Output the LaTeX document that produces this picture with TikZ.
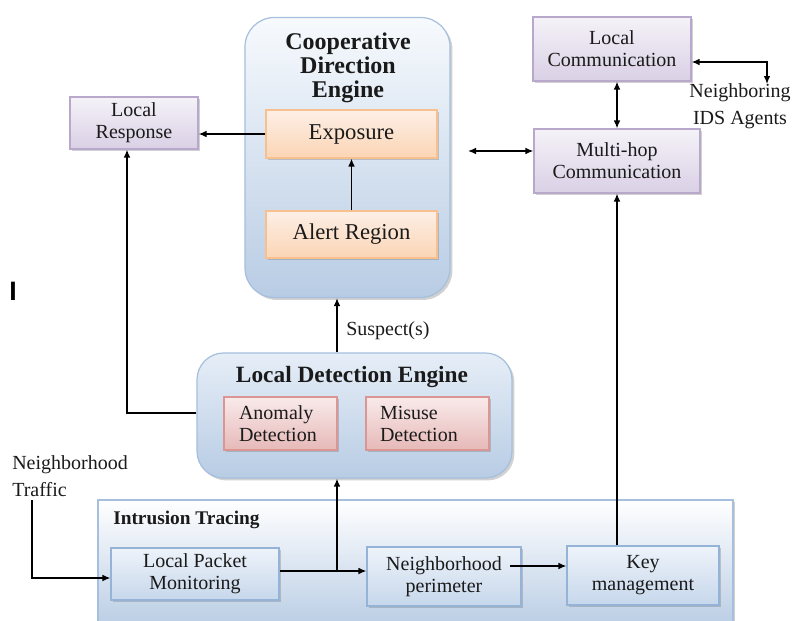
\documentclass[tikz,border=0pt]{standalone}
\usepackage{fontspec}
\setmainfont{Liberation Serif}
\newfontfamily\barfont{Liberation Sans}
\usetikzlibrary{arrows.meta,shadows}
\definecolor{txt}{HTML}{1A1A1A}
\definecolor{blueT}{HTML}{F7FAFD}
\definecolor{ldeT}{HTML}{E6EEF7}
\definecolor{blueD}{HTML}{B8CCE4}
\definecolor{blueB}{HTML}{A5BFDD}
\definecolor{lblueT}{HTML}{EEF3FA}
\definecolor{lblueD}{HTML}{C6D7EB}
\definecolor{lblueB}{HTML}{95B3D7}
\definecolor{orT}{HTML}{FDEFE6}
\definecolor{orD}{HTML}{FBD5B5}
\definecolor{orB}{HTML}{F9C08F}
\definecolor{puT}{HTML}{F5F2F8}
\definecolor{puD}{HTML}{D9D0E5}
\definecolor{puB}{HTML}{B8A9CC}
\definecolor{rdT}{HTML}{F9EAEA}
\definecolor{rdD}{HTML}{E6B9B8}
\definecolor{rdB}{HTML}{D99694}
\begin{document}
\begin{tikzpicture}[x=0.75pt,y=-0.75pt,
  sz/.style 2 args={minimum width=#1*0.75pt, minimum height=#2*0.75pt},
  base/.style={draw, inner sep=0pt, line width=0.9pt, text=txt,
     font=\fontsize{15}{16.5}\selectfont, align=center},
  shad/.style={drop shadow={shadow xshift=1.8pt,shadow yshift=-1.8pt,opacity=0.3,fill=black!60}},
  engine/.style={base, draw=blueB, top color=blueT, bottom color=blueD, shad},
  orangebox/.style={base, draw=orB, top color=orT, bottom color=orD, shad,
     font=\fontsize{17}{18}\selectfont},
  purplebox/.style={base, draw=puB, top color=puT, bottom color=puD, shad},
  redbox/.style={base, draw=rdB, top color=rdT, bottom color=rdD, shad, align=left},
  bluebox/.style={base, draw=lblueB, top color=lblueT, bottom color=lblueD, shad},
  title/.style={text=txt, inner sep=0pt, align=center, font=\bfseries},
  lab/.style={text=txt, inner sep=0pt, font=\fontsize{15}{20}\selectfont},
  arr/.style={-{Latex[length=6pt,width=5pt]}, line width=1pt},
  darr/.style={{Latex[length=6pt,width=5pt]}-{Latex[length=6pt,width=5pt]}, line width=1pt}
]
\useasboundingbox (0,0) rectangle (793,621);
\clip (0,0) rectangle (793,621);

% Cooperative Direction Engine
\node[engine, rounded corners=22pt, sz={205}{280}] (cde) at (347.5,157.5) {};
\node[title, font=\bfseries\fontsize{18}{18}\selectfont] (cdet) at (348,68) {Cooperative\\Direction\\Engine};
\node[orangebox, sz={171}{48}] (exp) at (351.5,134) {Exposure};
\node[orangebox, sz={171}{47}] (alert) at (351.5,234.5) {Alert Region};

% Local response
\node[purplebox, sz={128}{52}] (lr) at (134,123) {Local\\Response};

% Communication
\node[purplebox, sz={158}{64}] (lc) at (612,49) {Local\\Communication};
\node[purplebox, sz={166}{64}] (mh) at (617,161) {Multi-hop\\Communication};
\node[lab, align=center, font=\fontsize{15}{20}\selectfont] (nia) at (740,106) {Neighboring\\IDS Agents};

% Local Detection Engine
\node[engine, top color=ldeT, rounded corners=20pt, sz={315}{125}] (lde) at (354.5,415.5) {};
\node[title, font=\bfseries\fontsize{17.5}{18}\selectfont] (ldet) at (352,377) {Local Detection Engine};
\node[redbox, sz={113}{53}, text width=83*0.75pt] (ano) at (280.5,423.5) {Anomaly\\Detection};
\node[redbox, sz={123}{53}, text width=95*0.75pt] (mis) at (427.5,423.5) {Misuse\\Detection};
\node[lab, anchor=west] (sus) at (346,331) {Suspect(s)};

% Intrusion Tracing
\node[base, draw=blueB, top color=white, bottom color=blueD, sz={635}{130}, shad] (it) at (415.5,565) {};
\node[title, anchor=west, font=\bfseries\fontsize{14.5}{15}\selectfont] (itt) at (113,520) {Intrusion Tracing};
\node[bluebox, sz={168}{52}] (lpm) at (195,574) {Local Packet\\Monitoring};
\node[bluebox, sz={154}{59}] (np) at (444,576.5) {Neighborhood\\perimeter};
\node[bluebox, sz={152}{59}] (km) at (643,575.5) {Key\\management};

% Neighborhood traffic
\node[lab, anchor=west, align=left] (nt) at (12,476) {Neighborhood\\Traffic};
\node[text=black, inner sep=0pt, font=\barfont\bfseries\fontsize{20}{20}\selectfont] (bar) at (13,291) {I};

% Coordinates
\coordinate (ntc) at (32,500);
\coordinate (br) at (337,571);
\coordinate (npo) at (510,566);
\coordinate (dl) at (468,151);
\coordinate (nic) at (767,84);

% Connectors
\draw[arr] (alert.north) -- (exp.south);
\draw[arr] (exp.west) -- (exp.west -| lr.east);
\draw[arr] (lde.west |- 0,413) -| ([xshift=-5.25pt]lr.south);
\draw[arr] (lde.north -| br) -- (cde.south -| br);
\draw[darr] (lc.south -| mh.south) -- (mh.north);
\draw[darr] (lc.east |- 0,62) -| (nic);
\draw[darr] (dl) -- (dl -| mh.west);
\draw[arr] (mh.south |- km.north) -- (mh.south);
\draw[arr] (ntc) |- ([yshift=-3pt]lpm.west);
\draw[arr] (lpm.east |- br) -- (np.west |- br);
\draw[arr] (br) -- (br |- lde.south);
\draw[arr] (npo) -- (npo -| km.west);
\end{tikzpicture}
\end{document}
